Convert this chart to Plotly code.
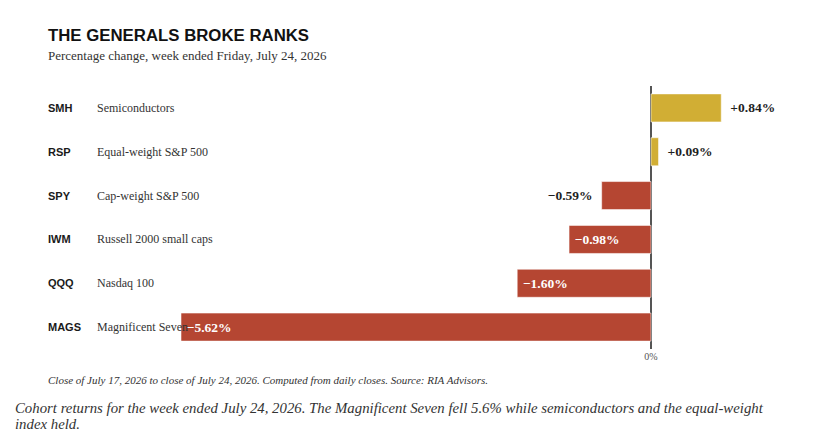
import plotly.graph_objects as go

tickers = ["SMH", "RSP", "SPY", "IWM", "QQQ", "MAGS"]
names = ["Semiconductors", "Equal-weight S&P 500", "Cap-weight S&P 500",
         "Russell 2000 small caps", "Nasdaq 100", "Magnificent Seven"]
values = [0.84, 0.09, -0.59, -0.98, -1.60, -5.62]
labels = ["+0.84%", "+0.09%", "\u22120.59%", "\u22120.98%", "\u22121.60%", "\u22125.62%"]

GOLD = "#D1AE34"
RED = "#B54632"
SERIF = "Georgia, 'Liberation Serif', 'Times New Roman', serif"
SANS = "Arial, 'Liberation Sans', Helvetica, sans-serif"

colors = [GOLD if v >= 0 else RED for v in values]
inside = [v < -0.8 for v in values]
textpos = ["inside" if i else "outside" for i in inside]
textcol = ["white" if i else "#1f1f1f" for i in inside]
PAD = "\u00a0\u2009"
shown = []
for lab, v, i in zip(labels, values, inside):
    if i:
        shown.append("\u2009" + lab)
    elif v >= 0:
        shown.append(PAD + lab)
    else:
        shown.append(lab + PAD)

W, H = 823, 439
T, B = 86, 90
PH = H - T - B
zero_px = 651.0
px_per_unit = (zero_px - 181.0) / 5.62
x_lo = -zero_px / px_per_unit
x_hi = (W - zero_px) / px_per_unit


def py(pix):
    return (H - B - pix) / PH


fig = go.Figure()
fig.add_trace(go.Bar(
    x=values, y=tickers, orientation="h",
    marker=dict(color=colors, line=dict(color="rgba(255,255,255,0.55)", width=1)),
    width=0.64,
    text=shown, textposition=textpos,
    textfont=dict(family=SERIF, size=13.5, color=textcol, weight="bold"),
    constraintext="none", cliponaxis=False,
    hoverinfo="skip",
))

annotations = []
for t, n in zip(tickers, names):
    annotations.append(dict(x=46 / W, xref="paper", y=t, yref="y", text=t,
                            showarrow=False, xanchor="left", yanchor="middle",
                            font=dict(family=SANS, size=11, color="#1a1a1a", weight="bold")))
    annotations.append(dict(x=95 / W, xref="paper", y=t, yref="y", text=n,
                            showarrow=False, xanchor="left", yanchor="middle",
                            font=dict(family=SERIF, size=12, color="#333333")))

annotations += [
    dict(x=46 / W, xref="paper", y=py(36), yref="paper", text="THE GENERALS BROKE RANKS",
         showarrow=False, xanchor="left", yanchor="middle",
         font=dict(family=SANS, size=16.8, color="#111111", weight="bold")),
    dict(x=46 / W, xref="paper", y=py(55.5), yref="paper",
         text="Percentage change, week ended Friday, July 24, 2026",
         showarrow=False, xanchor="left", yanchor="middle",
         font=dict(family=SERIF, size=13, color="#333333")),
    dict(x=46 / W, xref="paper", y=py(380), yref="paper",
         text="<i>Close of July 17, 2026 to close of July 24, 2026. Computed from daily closes. Source: RIA Advisors.</i>",
         showarrow=False, xanchor="left", yanchor="middle",
         font=dict(family=SERIF, size=11, color="#333333")),
    dict(x=13 / W, xref="paper", y=py(408), yref="paper",
         text="<i>Cohort returns for the week ended July 24, 2026. The Magnificent Seven fell 5.6% while semiconductors and the equal-weight</i>",
         showarrow=False, xanchor="left", yanchor="middle", align="left",
         font=dict(family=SERIF, size=14.8, color="#333333")),
    dict(x=13 / W, xref="paper", y=py(424), yref="paper",
         text="<i>index held.</i>",
         showarrow=False, xanchor="left", yanchor="middle", align="left",
         font=dict(family=SERIF, size=14.8, color="#333333")),
]

fig.update_layout(
    width=W, height=H,
    margin=dict(l=0, r=0, t=T, b=B, pad=0),
    paper_bgcolor="white", plot_bgcolor="white",
    showlegend=False,
    xaxis=dict(range=[x_lo, x_hi], showgrid=False, zeroline=True, zerolinecolor="#555555",
               zerolinewidth=2, tickvals=[0], ticktext=["0%"], ticks="", showline=False,
               tickfont=dict(family=SERIF, size=10, color="#555555"), fixedrange=True),
    yaxis=dict(autorange="reversed", showticklabels=False, showgrid=False, zeroline=False,
               showline=False, ticks="", fixedrange=True),
    annotations=annotations,
    bargap=0.36,
)

fig.write_html("out.html")
